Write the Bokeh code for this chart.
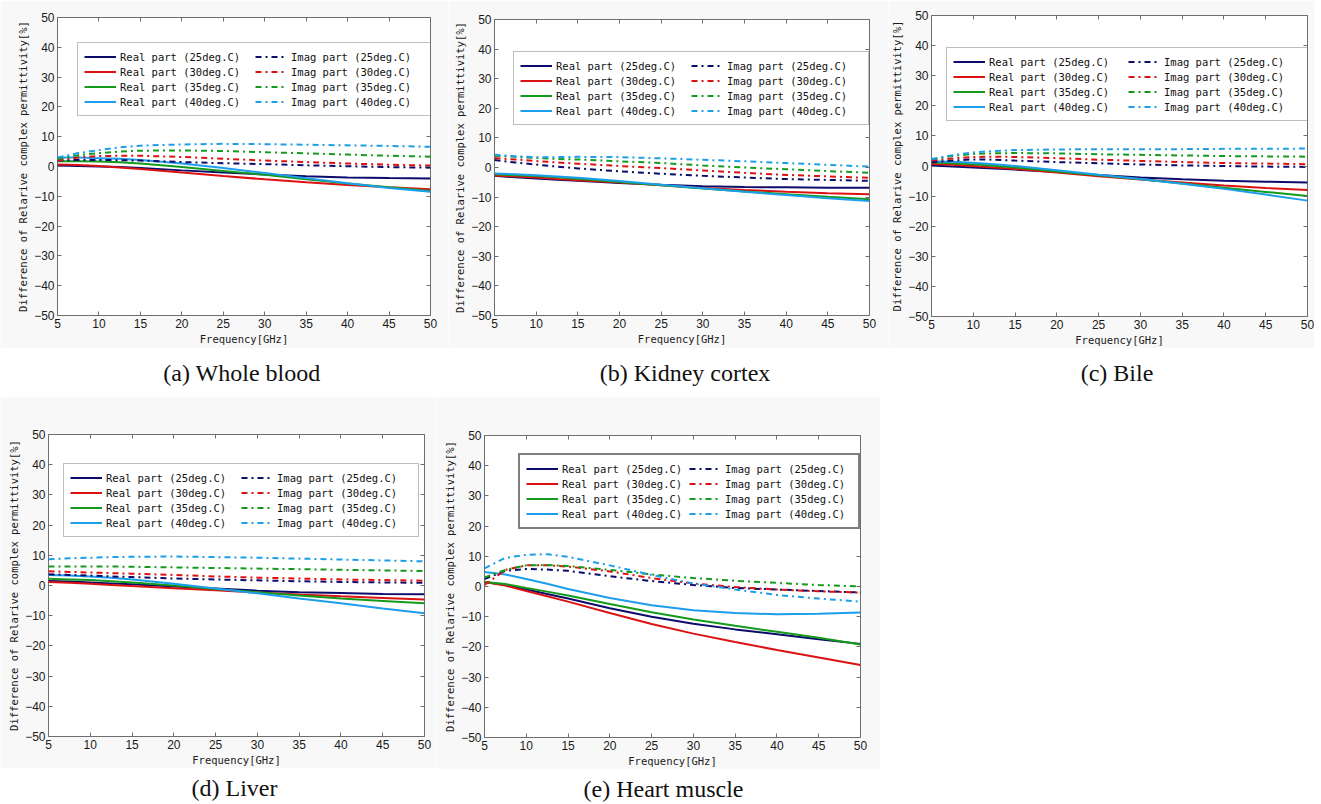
from bokeh.plotting import figure
from bokeh.models import LinearAxis, FixedTicker, Legend, LegendItem, Label, Range1d
from bokeh.layouts import row, column
from bokeh.embed import file_html
from bokeh.resources import INLINE

# ---------------- data ----------------
FREQ = [5, 7.5, 10, 12.5, 15, 20, 25, 30, 35, 40, 45, 50]
TEMPS = ["25deg.C", "30deg.C", "35deg.C", "40deg.C"]
X_TICKS = [5, 10, 15, 20, 25, 30, 35, 40, 45, 50]
Y_TICKS = [-50, -40, -30, -20, -10, 0, 10, 20, 30, 40, 50]
X_LABEL = "Frequency[GHz]"
Y_LABEL = "Difference of Relarive complex permittivity[%]"
CAPTIONS = ["(a)  Whole  blood", "(b)  Kidney  cortex", "(c)  Bile", "(d)  Liver", "(e)  Heart  muscle"]

# (a) Whole blood
A_REAL_25 = [0.3, 0.2, 0.0, -0.2, -0.5, -1.3, -2.0, -2.7, -3.3, -3.7, -3.9, -4.0]
A_REAL_30 = [0.7, 0.5, 0.2, -0.3, -0.8, -2.0, -3.2, -4.3, -5.3, -6.2, -7.0, -7.6]
A_REAL_35 = [1.8, 1.8, 1.7, 1.4, 1.0, -0.2, -1.5, -2.8, -4.3, -5.7, -7.0, -8.2]
A_REAL_40 = [3.0, 3.0, 2.8, 2.6, 2.2, 1.0, -0.5, -2.2, -3.9, -5.6, -7.2, -8.5]
A_IMAG_25 = [2.0, 2.2, 2.2, 2.1, 2.0, 1.5, 1.1, 0.8, 0.4, 0.1, -0.2, -0.4]
A_IMAG_30 = [2.0, 3.0, 3.5, 3.6, 3.6, 3.2, 2.6, 2.0, 1.5, 1.0, 0.6, 0.3]
A_IMAG_35 = [2.5, 3.8, 4.5, 5.0, 5.3, 5.4, 5.2, 4.8, 4.4, 4.0, 3.6, 3.3]
A_IMAG_40 = [3.0, 4.5, 5.5, 6.4, 7.0, 7.4, 7.6, 7.5, 7.3, 7.1, 6.9, 6.6]

# (b) Kidney cortex
B_REAL_25 = [-2.8, -3.3, -3.7, -4.1, -4.5, -5.2, -5.8, -6.3, -6.6, -6.7, -6.8, -6.8]
B_REAL_30 = [-2.7, -3.0, -3.4, -3.9, -4.3, -5.1, -6.0, -6.9, -7.6, -8.2, -8.7, -9.0]
B_REAL_35 = [-2.3, -2.6, -2.9, -3.3, -3.8, -4.9, -6.0, -7.1, -8.1, -9.0, -9.9, -10.7]
B_REAL_40 = [-2.0, -2.3, -2.6, -3.0, -3.5, -4.6, -5.8, -7.0, -8.2, -9.3, -10.4, -11.3]
B_IMAG_25 = [2.5, 1.7, 1.0, 0.3, -0.3, -1.3, -2.1, -2.8, -3.4, -3.9, -4.2, -4.5]
B_IMAG_30 = [3.2, 2.7, 2.2, 1.7, 1.3, 0.5, -0.2, -1.0, -1.8, -2.5, -3.0, -3.5]
B_IMAG_35 = [4.0, 3.6, 3.2, 2.9, 2.7, 2.1, 1.5, 0.7, 0.0, -0.6, -1.2, -1.8]
B_IMAG_40 = [4.3, 3.8, 3.5, 3.5, 3.6, 3.5, 3.1, 2.6, 2.1, 1.5, 0.9, 0.3]

# (c) Bile
C_REAL_25 = [0.2, -0.2, -0.5, -0.8, -1.2, -2.0, -3.0, -3.8, -4.4, -4.9, -5.2, -5.5]
C_REAL_30 = [0.7, 0.4, 0.0, -0.5, -1.0, -2.2, -3.4, -4.5, -5.5, -6.5, -7.3, -8.0]
C_REAL_35 = [1.2, 0.9, 0.6, 0.1, -0.5, -1.8, -3.1, -4.4, -5.8, -7.2, -8.6, -10.0]
C_REAL_40 = [1.6, 1.4, 1.1, 0.6, 0.0, -1.4, -2.9, -4.3, -5.9, -7.6, -9.5, -11.5]
C_IMAG_25 = [1.2, 1.8, 2.2, 2.1, 1.8, 1.3, 0.9, 0.5, 0.2, 0.0, -0.2, -0.3]
C_IMAG_30 = [1.8, 2.5, 3.0, 3.1, 3.0, 2.6, 2.1, 1.7, 1.3, 1.0, 0.8, 0.6]
C_IMAG_35 = [2.2, 3.3, 4.0, 4.2, 4.3, 4.2, 3.9, 3.7, 3.5, 3.3, 3.2, 3.1]
C_IMAG_40 = [2.3, 3.6, 4.5, 5.0, 5.3, 5.5, 5.6, 5.6, 5.6, 5.7, 5.7, 5.8]

# (d) Liver
D_REAL_25 = [1.5, 1.3, 1.0, 0.7, 0.4, -0.3, -1.0, -1.7, -2.2, -2.5, -2.8, -2.9]
D_REAL_30 = [1.2, 0.9, 0.6, 0.2, -0.2, -0.9, -1.6, -2.3, -3.0, -3.6, -4.1, -4.6]
D_REAL_35 = [2.2, 2.0, 1.8, 1.4, 1.0, 0.0, -1.2, -2.2, -3.3, -4.3, -5.1, -5.9]
D_REAL_40 = [3.5, 3.3, 3.0, 2.6, 2.0, 0.6, -1.0, -2.6, -4.3, -5.9, -7.6, -9.2]
D_IMAG_25 = [3.7, 3.5, 3.3, 3.0, 2.8, 2.3, 2.0, 1.7, 1.4, 1.2, 1.0, 0.9]
D_IMAG_30 = [4.7, 4.5, 4.3, 4.1, 3.9, 3.5, 3.0, 2.6, 2.3, 2.0, 1.8, 1.6]
D_IMAG_35 = [6.3, 6.3, 6.3, 6.3, 6.2, 6.0, 5.8, 5.6, 5.4, 5.2, 5.0, 4.8]
D_IMAG_40 = [8.7, 9.0, 9.2, 9.4, 9.5, 9.6, 9.4, 9.2, 8.9, 8.6, 8.3, 8.0]

# (e) Heart muscle
E_REAL_25 = [1.5, 0.5, -1.0, -2.5, -4.0, -7.2, -10.0, -12.3, -14.2, -15.8, -17.5, -19.0]
E_REAL_30 = [1.5, 0.3, -1.5, -3.2, -5.0, -8.8, -12.4, -15.6, -18.4, -21.0, -23.5, -26.0]
E_REAL_35 = [1.5, 0.8, -0.5, -1.7, -3.0, -5.8, -8.5, -10.9, -13.0, -15.0, -17.0, -19.2]
E_REAL_40 = [4.8, 4.0, 2.5, 0.9, -0.8, -3.8, -6.2, -7.9, -8.8, -9.2, -9.0, -8.6]
E_IMAG_25 = [2.5, 5.2, 5.8, 5.6, 5.2, 3.4, 1.8, 0.5, -0.5, -1.0, -1.5, -2.0]
E_IMAG_30 = [0.5, 5.5, 7.0, 7.0, 6.6, 5.0, 2.8, 1.0, -0.2, -1.0, -1.6, -2.0]
E_IMAG_35 = [3.0, 5.5, 7.0, 7.1, 6.8, 5.5, 4.0, 2.8, 1.9, 1.2, 0.5, 0.0]
E_IMAG_40 = [6.0, 9.5, 10.5, 10.7, 9.8, 7.0, 3.8, 1.0, -1.0, -2.8, -4.0, -5.0]

# ---------------- style ----------------
COLORS = ["#0c0c6c", "#dc1212", "#149a1c", "#1c9eec"]
MONO = "DejaVu Sans Mono"
SANS = "Liberation Sans"
SERIF = "Liberation Serif"
FRAME_COLOR = "#6e6e6e"
PANEL_BG = "#f8f8f8"


def minus(v):
    return str(v).replace("-", "\u2212")


def make_panel(reals, imags, caption, g):
    p = figure(
        frame_width=g["fw"], frame_height=g["fh"],
        min_border_left=g["bl"], min_border_right=g["br"],
        min_border_top=g["bt"], min_border_bottom=g["bb"],
        x_range=Range1d(5, 50), y_range=Range1d(-50, 50),
        toolbar_location=None, output_backend="svg",
        background_fill_color="white", border_fill_color=PANEL_BG,
        outline_line_color=FRAME_COLOR, outline_line_width=1,
    )
    p.grid.visible = False
    p.xaxis.ticker = FixedTicker(ticks=X_TICKS)
    p.yaxis.ticker = FixedTicker(ticks=Y_TICKS)
    p.yaxis.major_label_overrides = {t: minus(t) for t in Y_TICKS}
    for ax in (p.xaxis[0], p.yaxis[0]):
        ax.axis_line_color = None
        ax.major_tick_in = 4
        ax.major_tick_out = 0
        ax.minor_tick_line_color = None
        ax.major_tick_line_color = FRAME_COLOR
        ax.major_label_text_font = SANS
        ax.major_label_text_font_size = "12px"
        ax.major_label_text_color = "#1a1a1a"
        ax.major_label_standoff = 3
        ax.axis_label_text_font = MONO
        ax.axis_label_text_font_size = "10.5px"
        ax.axis_label_text_font_style = "normal"
        ax.axis_label_text_color = "#1a1a1a"
        ax.axis_label_standoff = 2
    p.xaxis.axis_label = X_LABEL
    p.yaxis.axis_label = Y_LABEL

    # inward tick marks on the top and right edges (box style), no labels
    for loc, ticks in (("right", Y_TICKS), ("above", X_TICKS)):
        ax = LinearAxis(ticker=FixedTicker(ticks=ticks))
        ax.axis_line_color = None
        ax.major_tick_in = 4
        ax.major_tick_out = 0
        ax.minor_tick_line_color = None
        ax.major_tick_line_color = FRAME_COLOR
        ax.major_label_text_color = None
        ax.major_label_text_font_size = "1px"
        ax.major_label_standoff = 0
        p.add_layout(ax, loc)

    real_items, imag_items = [], []
    for i, t in enumerate(TEMPS):
        r = p.line(FREQ, reals[i], line_color=COLORS[i], line_width=2)
        real_items.append(LegendItem(label="Real part (%s)" % t, renderers=[r]))
    for i, t in enumerate(TEMPS):
        r = p.line(FREQ, imags[i], line_color=COLORS[i], line_width=2, line_dash="6 4 2 4")
        imag_items.append(LegendItem(label="Imag part (%s)" % t, renderers=[r]))

    legend = Legend(
        items=real_items + imag_items, nrows=4,
        location=(g["lx"], g["fh"] - g["ly"] - 75),
        glyph_width=32, glyph_height=15, label_height=15, label_width=g["lw"],
        label_standoff=4, spacing=0, padding=6, margin=0,
        label_text_font=MONO, label_text_font_size="10.5px", label_text_color="#111111",
        border_line_color=g["lc"], border_line_width=g["lwid"],
        background_fill_color="white", background_fill_alpha=1.0,
    )
    p.add_layout(legend, "center")

    total_w = g["bl"] + g["fw"] + g["br"]
    cap = figure(
        width=total_w, height=g["ch"], toolbar_location=None, output_backend="svg",
        x_axis_location=None, y_axis_location=None,
        min_border=0, x_range=Range1d(0, 1), y_range=Range1d(0, 1),
        background_fill_color="white", border_fill_color="white", outline_line_color=None,
    )
    cap.grid.visible = False
    cap.add_layout(Label(
        x=0.5, y=0.5, x_offset=g["cx"],
        text=caption, text_font=SERIF, text_font_size="24px",
        text_align="center", text_baseline="middle", text_color="#111111",
    ))
    return column(p, cap, spacing=0)


GEOM = [
    dict(fw=373, fh=298, bl=57, br=18, bt=17, bb=33, lx=20, ly=24, lw=135, lc="#808080", lwid=1, ch=48, cx=4),
    dict(fw=375, fh=296, bl=46, br=19, bt=19, bb=33, lx=19, ly=31, lw=135, lc="#808080", lwid=1, ch=48, cx=9),
    dict(fw=376, fh=301, bl=42, br=7, bt=15, bb=32, lx=15, ly=31, lw=139, lc="#808080", lwid=1, ch=48, cx=1),
    dict(fw=376, fh=302, bl=48, br=12, bt=38, bb=30, lx=15, ly=28, lw=135, lc="#808080", lwid=1, ch=38, cx=1),
    dict(fw=376, fh=302, bl=48, br=20, bt=39, bb=29, lx=34, ly=19, lw=127, lc="#000000", lwid=2, ch=38, cx=-3),
]

pa = make_panel([A_REAL_25, A_REAL_30, A_REAL_35, A_REAL_40], [A_IMAG_25, A_IMAG_30, A_IMAG_35, A_IMAG_40], CAPTIONS[0], GEOM[0])
pb = make_panel([B_REAL_25, B_REAL_30, B_REAL_35, B_REAL_40], [B_IMAG_25, B_IMAG_30, B_IMAG_35, B_IMAG_40], CAPTIONS[1], GEOM[1])
pc = make_panel([C_REAL_25, C_REAL_30, C_REAL_35, C_REAL_40], [C_IMAG_25, C_IMAG_30, C_IMAG_35, C_IMAG_40], CAPTIONS[2], GEOM[2])
pd = make_panel([D_REAL_25, D_REAL_30, D_REAL_35, D_REAL_40], [D_IMAG_25, D_IMAG_30, D_IMAG_35, D_IMAG_40], CAPTIONS[3], GEOM[3])
pe = make_panel([E_REAL_25, E_REAL_30, E_REAL_35, E_REAL_40], [E_IMAG_25, E_IMAG_30, E_IMAG_35, E_IMAG_40], CAPTIONS[4], GEOM[4])

layout = column(row(pa, pb, pc, spacing=0), row(pd, pe, spacing=0), spacing=0)

open("out.html", "w").write(file_html(layout, INLINE, title="Relative complex permittivity difference"))
